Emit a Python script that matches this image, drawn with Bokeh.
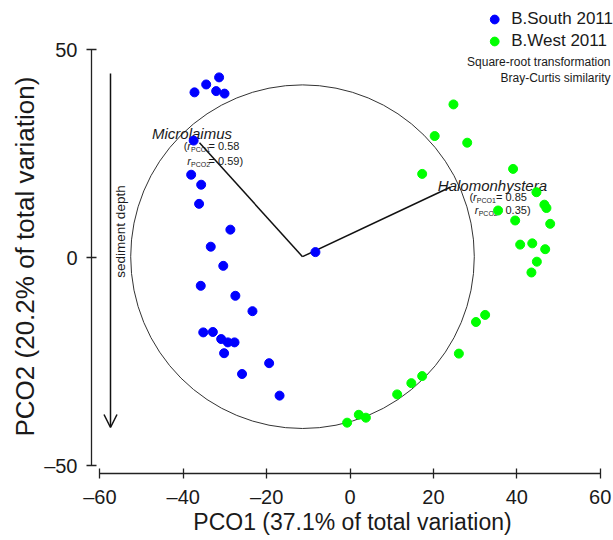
from math import pi
from bokeh.plotting import figure
from bokeh.models import (Range1d, FixedTicker, Arrow, OpenHead,
                          Legend, LegendItem, Title)
from bokeh.core.properties import value
from bokeh.embed import file_html
from bokeh.resources import INLINE

# ---------------- data ----------------
south_x = [-31.4, -34.5, -37.3, -32.1, -30.1, -37.5, -38.1, -35.7, -36.2, -28.7,
           -33.4, -30.4, -35.8, -27.5, -23.4, -35.2, -32.9, -30.9, -29.3, -27.7,
           -30.2, -19.4, -25.9, -16.9, -8.3]
south_y = [43.3, 41.6, 39.7, 40.0, 39.4, 28.1, 19.9, 17.5, 12.9, 6.7,
           2.6, -2.0, -6.8, -9.2, -12.9, -18.0, -17.9, -19.6, -20.4, -20.4,
           -23.0, -25.4, -28.0, -33.2, 1.3]
west_x = [24.8, 20.3, 28.1, 17.3, 39.1, 44.7, 46.6, 47.1, 35.5, 39.6,
          48.0, 40.8, 43.7, 46.8, 44.8, 43.5, 32.4, 30.2, 26.1, 17.3,
          14.7, 11.3, 2.1, 3.8, -0.7]
west_y = [36.8, 29.2, 27.6, 20.1, 21.3, 15.7, 12.7, 11.9, 11.3, 8.9,
          8.1, 3.1, 3.4, 2.0, -1.0, -3.6, -13.8, -15.5, -23.1, -28.5,
          -30.2, -32.9, -37.8, -38.5, -39.7]

series_labels = ["B.South 2011", "B.West 2011"]
vector_names = ["Microlaimus", "Halomonhystera"]
vector_r_pco1 = ["0.58", "0.85"]
vector_r_pco2 = ["0.59", "0.35"]
vector_end_x = [-36.1, 24.0]
vector_end_y = [27.6, 16.9]
circle_center = (-11.4, 0.2)
circle_radius = 41.2

x_ticks = [-60, -40, -20, 0, 20, 40, 60]
y_ticks = [-50, 0, 50]
x_title = "PCO1 (37.1% of total variation)"
y_title = "PCO2 (20.2% of total variation)"
note_lines = ["Square-root transformation", "Bray-Curtis similarity"]

# ---------------- layout ----------------
FONT = "Liberation Sans"
TXT = "#1a1a1a"
FRAME_W, FRAME_H = 522, 465
X0 = -62.0
X1 = X0 + FRAME_W / 4.17
Y1 = 59.86
Y0 = Y1 - FRAME_H / 4.16
PAGE_LEFT, PAGE_TOP = 91, 8
SX = FRAME_W / (X1 - X0)
SY = FRAME_H / (Y1 - Y0)


def dx(px):
    return X0 + (px - PAGE_LEFT) / SX


def dy(py):
    return Y1 - (py - PAGE_TOP) / SY


p = figure(frame_width=FRAME_W, frame_height=FRAME_H,
           x_range=Range1d(X0, X1), y_range=Range1d(Y0, Y1),
           output_backend="svg", toolbar_location=None,
           min_border_left=PAGE_LEFT, min_border_right=0, min_border_top=PAGE_TOP,
           min_border_bottom=540 - PAGE_TOP - FRAME_H)
p.outline_line_color = None
p.xgrid.visible = False
p.ygrid.visible = False
p.background_fill_color = "white"

for ax, ticks, bounds in ((p.xaxis[0], x_ticks, (-60, 60)), (p.yaxis[0], y_ticks, (-50, 50))):
    ax.ticker = FixedTicker(ticks=ticks)
    ax.bounds = bounds
    ax.major_label_overrides = {t: (str(t).replace("-", "\u2013")) for t in ticks}
    ax.axis_line_color = "#222222"
    ax.axis_line_width = 1.3
    ax.major_tick_line_color = "#222222"
    ax.major_tick_line_width = 1.3
    ax.major_tick_in = 5
    ax.major_tick_out = 5
    ax.minor_tick_line_color = None
    ax.major_label_text_font = FONT
    ax.major_label_text_font_size = "20px"
    ax.major_label_text_color = TXT

p.xaxis.major_label_standoff = 7
p.yaxis.major_label_standoff = 9
p.xaxis.axis_label = x_title
p.xaxis.axis_label_text_font = FONT
p.xaxis.axis_label_text_font_size = "23px"
p.xaxis.axis_label_text_font_style = "normal"
p.xaxis.axis_label_text_color = TXT
p.xaxis.axis_label_standoff = -2

# y axis title (placed as a side title so it is centred on the axis bounds)
p.add_layout(Title(text=y_title, align="left", offset=37, standoff=4,
                   text_font=FONT, text_font_size="26px",
                   text_font_style="normal", text_color=TXT), "left")

# correlation circle and vectors
p.circle(x=[circle_center[0]], y=[circle_center[1]], radius=circle_radius,
         fill_alpha=0, line_color="#333333", line_width=1)
p.segment(x0=[circle_center[0]] * 2, y0=[circle_center[1]] * 2,
          x1=vector_end_x, y1=vector_end_y, line_color="#111111", line_width=1.5)

# sediment depth arrow
ax_x = dx(110)
p.add_layout(Arrow(end=OpenHead(size=13, line_width=1.5, line_color="#111111"),
                   x_start=ax_x, y_start=dy(73), x_end=ax_x, y_end=dy(427),
                   line_width=1.5, line_color="#111111"))
p.text(x=[dx(119.5)], y=[dy(231)], text=["sediment depth"], angle=pi / 2,
       text_align="center", text_baseline="middle", text_font=value(FONT),
       text_font_size="13.5px", text_color=TXT)

# vector labels
p.text(x=[dx(151.5), dx(437.3)], y=[dy(133), dy(185)], text=vector_names,
       text_font=value(FONT), text_font_style="italic", text_font_size="15px",
       text_align="left", text_baseline="alphabetic", text_color=TXT)
p.text(x=[dx(183.3), dx(469)], y=[dy(145.7), dy(196.7)], text=["(", "("],
       text_font=value(FONT), text_font_size="11px",
       text_align="left", text_baseline="alphabetic", text_color=TXT)
p.text(x=[dx(186.8), dx(186.8), dx(472.6), dx(474.3)],
       y=[dy(145.7), dy(160), dy(196.7), dy(209)], text=["r", "r", "r", "r"],
       text_font=value(FONT), text_font_style="italic", text_font_size="11px",
       text_align="left", text_baseline="alphabetic", text_color=TXT)
p.text(x=[dx(190.6), dx(190.6), dx(476.3), dx(478.2)],
       y=[dy(149.3), dy(163.6), dy(200.2), dy(212.6)],
       text=["PCO1", "PCO2", "PCO1", "PCO2"],
       text_font=value(FONT), text_font_size="7px",
       text_align="left", text_baseline="alphabetic", text_color=TXT)
p.text(x=[dx(208), dx(208), dx(495.5), dx(495.5)],
       y=[dy(145.7), dy(160), dy(196.7), dy(209)],
       text=["= " + vector_r_pco1[0], "= " + vector_r_pco2[0] + ")",
             "= " + vector_r_pco1[1], "= " + vector_r_pco2[1] + ")"],
       text_font=value(FONT), text_font_size="11px",
       text_align="left", text_baseline="alphabetic", text_color=TXT)

# notes under legend
p.text(x=[dx(610), dx(610)], y=[dy(61.7), dy(77.3)], text=note_lines,
       text_font=value(FONT), text_font_size="12px",
       text_align="right", text_baseline="middle", text_color=TXT)

# points
r_s = p.scatter(south_x, south_y, size=9, fill_color="#0000FF", line_color="#0000FF")
r_w = p.scatter(west_x, west_y, size=9, fill_color="#00FF00", line_color="#00FF00")

legend = Legend(items=[LegendItem(label=series_labels[0], renderers=[r_s]),
                       LegendItem(label=series_labels[1], renderers=[r_w])],
                location="top_right", margin=0, padding=0, spacing=0,
                glyph_width=22, glyph_height=22, label_height=22,
                label_standoff=6, label_text_font=FONT,
                label_text_font_size="17px", label_text_color=TXT,
                background_fill_alpha=0, border_line_alpha=0)
p.add_layout(legend)

open("out.html", "w").write(file_html(p, INLINE))
